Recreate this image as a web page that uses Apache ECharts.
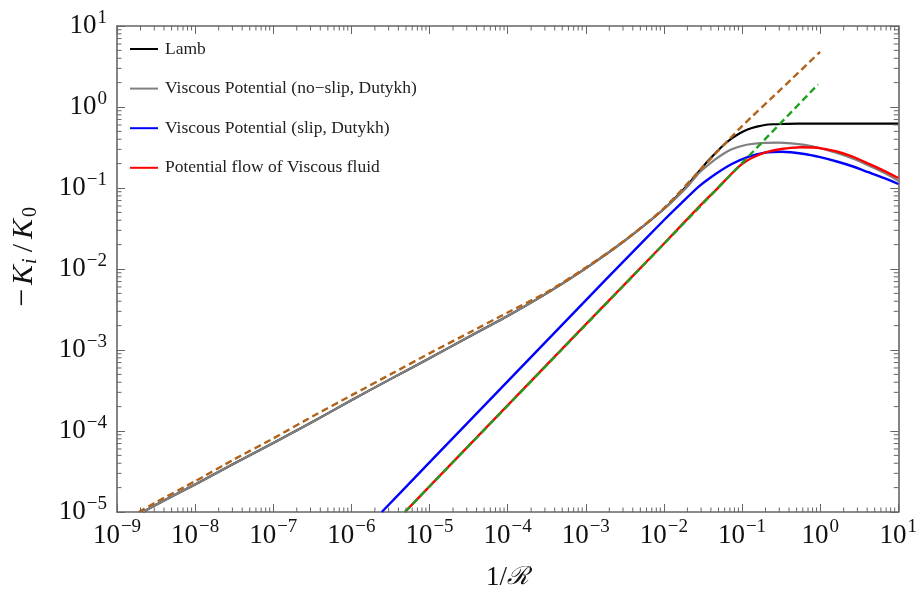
<!DOCTYPE html>
<html><head><meta charset="utf-8">
<script src="https://cdn.jsdelivr.net/npm/echarts@6/dist/echarts.min.js"></script>
<style>html,body{margin:0;padding:0;background:#fff}#c{width:920px;height:596px}</style>
</head><body><div id="c"></div>
<script>
// ---- tick decades ----
const xDecades = [1e-9, 1e-8, 1e-7, 1e-6, 1e-5, 1e-4, 1e-3, 1e-2, 1e-1, 1e0, 1e1];
const yDecades = [1e-5, 1e-4, 1e-3, 1e-2, 1e-1, 1e0, 1e1];
const minorMultipliers = [2, 3, 4, 5, 6, 7, 8, 9];

// ---- series values ----
const lambX = [2.14e-9, 3.16e-9, 1e-8, 3.16e-8, 1e-7, 3.16e-7, 1e-6, 3.16e-6, 1e-5, 3.16e-5, 1e-4, 3.16e-4, 1e-3, 3.16e-3, 1e-2, 2.0e-2, 2.79e-2, 3.56e-2, 4.55e-2, 5.81e-2, 7.4e-2, 9.5e-2, 0.12, 0.155, 0.196, 0.25, 0.32, 0.52, 1, 3, 10];
const lambY = [1e-5, 1.23e-5, 2.19e-5, 3.98e-5, 7.1e-5, 1.29e-4, 2.4e-4, 4.37e-4, 7.9e-4, 1.45e-3, 2.63e-3, 5.0e-3, 1.02e-2, 2.24e-2, 5.5e-2, 0.108, 0.159, 0.21, 0.268, 0.34, 0.41, 0.478, 0.531, 0.572, 0.60, 0.612, 0.617, 0.622, 0.622, 0.622, 0.622];

const noSlipX = [2.14e-9, 3.16e-9, 1e-8, 3.16e-8, 1e-7, 3.16e-7, 1e-6, 3.16e-6, 1e-5, 3.16e-5, 1e-4, 3.16e-4, 1e-3, 3.16e-3, 1e-2, 2.0e-2, 2.79e-2, 3.56e-2, 4.55e-2, 5.81e-2, 7.4e-2, 9.9e-2, 0.133, 0.196, 0.29, 0.428, 0.632, 1.0, 1.68, 2.7, 4.04, 6.5, 10];
const noSlipY = [1e-5, 1.23e-5, 2.19e-5, 3.98e-5, 7.1e-5, 1.29e-4, 2.4e-4, 4.37e-4, 7.9e-4, 1.45e-3, 2.63e-3, 5.0e-3, 1.02e-2, 2.24e-2, 5.5e-2, 0.104, 0.152, 0.187, 0.226, 0.265, 0.30, 0.330, 0.349, 0.36, 0.363, 0.356, 0.34, 0.31, 0.268, 0.228, 0.192, 0.155, 0.123];

const slipX = [2.45e-6, 1e-5, 1e-4, 1e-3, 3.16e-3, 1e-2, 1.7e-2, 2.79e-2, 4.55e-2, 7.4e-2, 0.12, 0.196, 0.32, 0.632, 1.0, 1.68, 2.7, 4.04, 6.5, 10];
const slipY = [1e-5, 4.1e-5, 4.1e-4, 4.1e-3, 1.29e-2, 4.0e-2, 6.6e-2, 0.104, 0.148, 0.198, 0.243, 0.273, 0.28, 0.263, 0.24, 0.211, 0.183, 0.158, 0.133, 0.112];

const potentialX = [4.84e-6, 1e-5, 1e-4, 1e-3, 1e-2, 2.79e-2, 5e-2, 7.4e-2, 9.5e-2, 0.12, 0.155, 0.196, 0.25, 0.32, 0.42, 0.574, 0.8, 1.03, 1.68, 2.7, 4.04, 6.5, 10];
const potentialY = [1e-5, 2.07e-5, 2.07e-4, 2.07e-3, 2.05e-2, 5.8e-2, 0.102, 0.151, 0.19, 0.222, 0.25, 0.273, 0.29, 0.303, 0.313, 0.318, 0.316, 0.309, 0.28, 0.24, 0.202, 0.164, 0.133];

const asympSqrtX = [1.9e-9, 3.16e-9, 1e-8, 3.16e-8, 1e-7, 3.16e-7, 1e-6, 3.16e-6, 1e-5, 3.16e-5, 1e-4, 3.16e-4, 1e-3, 3.16e-3, 1e-2, 3.16e-2, 0.1, 0.316, 1];
const asympSqrtY = [1e-5, 1.32e-5, 2.4e-5, 4.47e-5, 8.1e-5, 1.51e-4, 2.75e-4, 5.0e-4, 9.1e-4, 1.62e-3, 2.9e-3, 5.15e-3, 1.04e-2, 2.25e-2, 5.6e-2, 0.182, 0.58, 1.66, 4.8];

const asympLinX = [4.84e-6, 0.94];
const asympLinY = [1e-5, 1.9];

const legendNames = ['Lamb', 'Viscous Potential (no\u2212slip, Dutykh)', 'Viscous Potential (slip, Dutykh)', 'Potential flow of Viscous fluid'];

// ---- build ----
const X_MIN = xDecades[0], X_MAX = xDecades[xDecades.length - 1];
const Y_MIN = yDecades[0], Y_MAX = yDecades[yDecades.length - 1];
const pairs = (xs, ys) => xs.map((x, i) => [x, ys[i]]);
const xMinor = [], yMinor = [];
xDecades.slice(0, -1).forEach(d => minorMultipliers.forEach(m => xMinor.push([d * m, 1])));
yDecades.slice(0, -1).forEach(d => minorMultipliers.forEach(m => yMinor.push([1e-3, d * m])));

const AX = '#666666';
const SERIF = 'Liberation Serif';
const supStr = v => { const e = Math.round(Math.log10(v)); return '{b|10}{e|' + (e < 0 ? '\u2212' + (-e) : e) + '}'; };
const labelRich = {
  b: { fontFamily: SERIF, fontSize: 27, color: '#111' },
  e: { fontFamily: SERIF, fontSize: 19, color: '#111', padding: [0, 0, 16, 1] }
};
const tickLen = 8, minorLen = 4.5;

function axisCommon(show) {
  return {
    type: 'log', logBase: 10,
    splitLine: { show: false },
    axisLine: { show: true, onZero: false, lineStyle: { color: AX, width: 1.6 } },
    axisTick: { show: true, inside: true, length: tickLen, lineStyle: { color: AX, width: 1 } },
    axisLabel: show ? { show: true, formatter: supStr, rich: labelRich } : { show: false }
  };
}
function lineSeries(name, xs, ys, color, width, z) {
  return { name, type: 'line', data: pairs(xs, ys), symbol: 'none', showSymbol: false, smooth: 0.2,
    lineStyle: { color, width }, itemStyle: { color }, z };
}

const chart = echarts.init(document.getElementById('c'), null, { renderer: 'canvas' });
chart.setOption({
  animation: false,
  backgroundColor: '#fff',
  grid: { left: 114, right: 19, top: 26, bottom: 84 },
  legend: {
    orient: 'vertical', left: 129, top: 39, padding: 0,
    itemWidth: 28, itemHeight: 14, itemGap: 19.6,
    itemStyle: { opacity: 0 },
    data: legendNames,
    textStyle: { fontFamily: SERIF, fontSize: 17.5, lineHeight: 20, color: '#222', padding: [0, 0, 0, 2] }
  },
  xAxis: [
    Object.assign(axisCommon(true), {
      min: X_MIN, max: X_MAX, interval: 1, splitNumber: 10, position: 'bottom',
      axisLabel: { show: true, formatter: supStr, rich: labelRich, margin: 6 },
      name: '{n|1/}{r|\u211B}', nameLocation: 'middle', nameGap: 52,
      nameTextStyle: { rich: {
        n: { fontFamily: SERIF, fontSize: 27, color: '#111' },
        r: { fontFamily: 'DejaVu Serif', fontStyle: 'italic', fontSize: 25, color: '#111' } } }
    }),
    Object.assign(axisCommon(false), { min: X_MIN, max: X_MAX, interval: 1, splitNumber: 10, position: 'top' })
  ],
  yAxis: [
    Object.assign(axisCommon(true), {
      min: Y_MIN, max: Y_MAX, interval: 1, splitNumber: 6, position: 'left',
      axisLabel: { show: true, formatter: supStr, rich: labelRich, margin: 10 },
      name: '{m|\u2212}{k|K}{s|i}{sl|/}{k|K}{s0|0}', nameLocation: 'middle', nameGap: 76, nameRotate: 90,
      nameTextStyle: { rich: {
        m: { fontFamily: SERIF, fontSize: 32, color: '#111', padding: [0, 4, 0, 24] },
        k: { fontFamily: SERIF, fontStyle: 'italic', fontSize: 30, color: '#111' },
        sl: { fontFamily: SERIF, fontSize: 30, color: '#111', padding: [0, 5, 0, 4] },
        s: { fontFamily: SERIF, fontStyle: 'italic', fontSize: 20, color: '#111', padding: [14, 2, 0, 1] },
        s0: { fontFamily: SERIF, fontSize: 20, color: '#111', padding: [14, 0, 0, 2] } } }
    }),
    Object.assign(axisCommon(false), { min: Y_MIN, max: Y_MAX, interval: 1, splitNumber: 6, position: 'right' })
  ],
  series: [
    lineSeries(legendNames[0], lambX, lambY, '#000000', 2.2, 3),
    lineSeries(legendNames[1], noSlipX, noSlipY, '#808080', 2.2, 4),
    lineSeries(legendNames[2], slipX, slipY, '#0000ff', 2.4, 5),
    lineSeries(legendNames[3], potentialX, potentialY, '#ff0000', 2.4, 6),
    { name: 'asymptote sqrt', type: 'line', data: pairs(asympSqrtX, asympSqrtY), symbol: 'none', smooth: 0.2,
      lineStyle: { color: '#b3621a', width: 2.4, type: [7, 4] }, z: 7 },
    { name: 'asymptote linear', type: 'line', data: pairs(asympLinX, asympLinY), symbol: 'none',
      lineStyle: { color: '#1ea01e', width: 2.4, type: [7, 4] }, z: 8 },
    { name: 'xminor', type: 'custom', data: xMinor, clip: false, silent: true, z: 10,
      encode: { x: 0, y: 1 },
      renderItem: (p, api) => {
        const v = api.value(0);
        const b = api.coord([v, Y_MIN]), t = api.coord([v, Y_MAX]);
        const st = { stroke: AX, lineWidth: 1 };
        return { type: 'group', children: [
          { type: 'line', shape: { x1: b[0], y1: b[1], x2: b[0], y2: b[1] - minorLen }, style: st },
          { type: 'line', shape: { x1: t[0], y1: t[1], x2: t[0], y2: t[1] + minorLen }, style: st } ] };
      } },
    { name: 'yminor', type: 'custom', data: yMinor, clip: false, silent: true, z: 10,
      encode: { x: 0, y: 1 },
      renderItem: (p, api) => {
        const v = api.value(1);
        const l = api.coord([X_MIN, v]), r = api.coord([X_MAX, v]);
        const st = { stroke: AX, lineWidth: 1 };
        return { type: 'group', children: [
          { type: 'line', shape: { x1: l[0], y1: l[1], x2: l[0] + minorLen, y2: l[1] }, style: st },
          { type: 'line', shape: { x1: r[0], y1: r[1], x2: r[0] - minorLen, y2: r[1] }, style: st } ] };
      } }
  ]
});
</script></body></html>
